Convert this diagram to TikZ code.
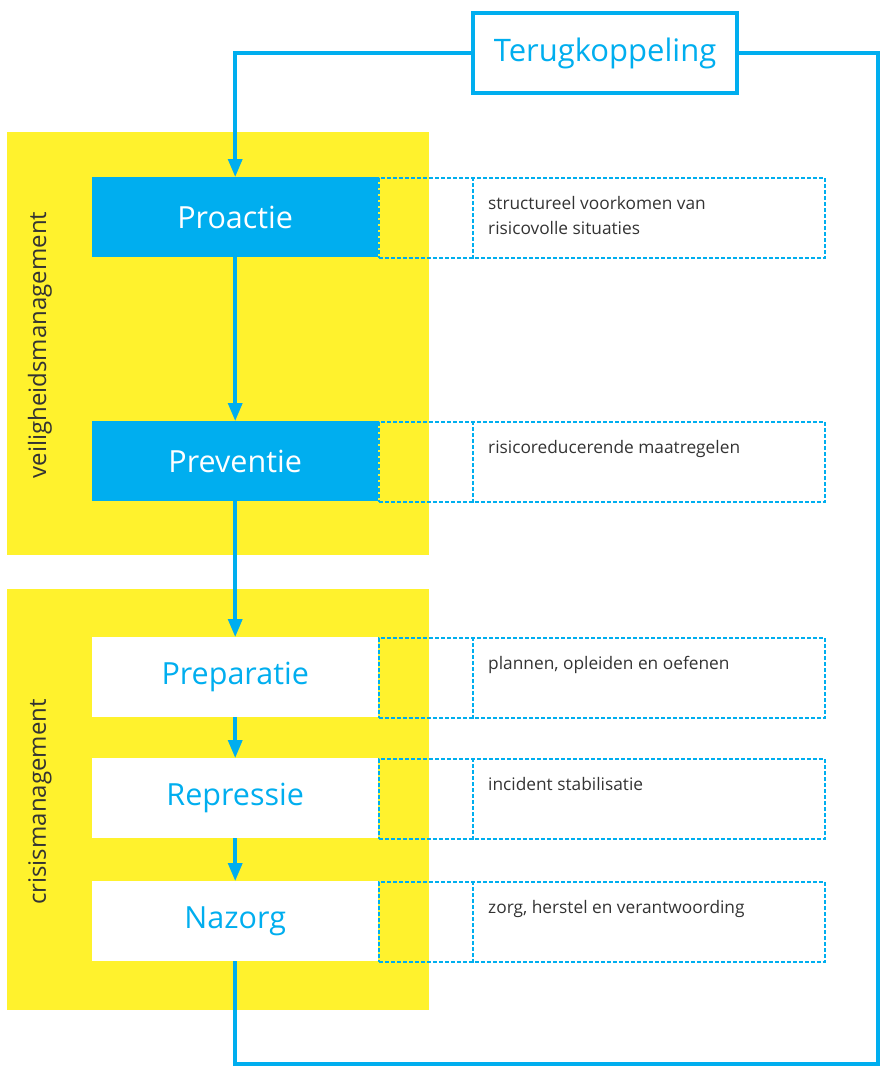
\documentclass[tikz,border=0pt]{standalone}
\usepackage{fontspec}
\setmainfont{Open Sans}
\usetikzlibrary{arrows.meta}
\definecolor{rblue}{HTML}{00AEEF}
\definecolor{ryel}{HTML}{FFF22D}
\definecolor{rtext}{HTML}{333333}
\begin{document}
\begin{tikzpicture}[x=1pt,y=-1pt,
  zone/.style={fill=ryel, inner sep=0, minimum width=422pt, minimum height=422pt, anchor=north west},
  zonelabel/.style={rotate=90, text=rtext, font=\fontsize{24}{26}\selectfont, inner sep=0},
  phase/.style={inner sep=0, minimum width=286pt, minimum height=80pt, anchor=north west, font=\fontsize{30.5}{32}\selectfont},
  phaseA/.style={phase, fill=rblue, text=white},
  phaseB/.style={phase, fill=white, text=rblue},
  note/.style={draw=rblue, line width=1.5pt, dash pattern=on 4pt off 2pt, inner sep=0, minimum width=446pt, minimum height=80pt, anchor=north west},
  notedash/.style={draw=rblue, line width=1.5pt, dash pattern=on 4pt off 2pt},
  notetext/.style={text=rtext, font=\fontsize{17.3}{25}\selectfont, align=left, inner sep=0, anchor=north west},
  fbbox/.style={draw=rblue, line width=3.5pt, fill=white, text=rblue, inner sep=0, minimum width=264pt, minimum height=80pt, font=\fontsize{31}{33}\selectfont},
  link/.style={draw=rblue, line width=3.5pt},
  arr/.style={link, -{Triangle[length=18pt,width=14pt]}}
]
\useasboundingbox (0,0) rectangle (880,1068);
% zones
\node[zone, minimum height=423pt] (z1) at (7,132) {};
\node[zone, minimum height=421pt] (z2) at (7,589) {};
\node[zonelabel] (zl1) at (40,345) {veiligheidsmanagement};
\node[zonelabel] (zl2) at (40,802) {crisismanagement};
% notes
\foreach \n/\y in {n1/177,n2/421,n3/637,n4/758,n5/881}{
  \node[note] (\n) at (378,\y) {};
  \draw[notedash] ([xshift=95pt]\n.north west) -- ([xshift=95pt]\n.south west);
}
\node[notetext] (t1) at ([xshift=110pt,yshift=-19pt]n1.north west) {structureel voorkomen van\\risicovolle situaties};
\node[notetext] (t2) at ([xshift=110pt,yshift=-19pt]n2.north west) {risicoreducerende maatregelen};
\node[notetext] (t3) at ([xshift=110pt,yshift=-19pt]n3.north west) {plannen, opleiden en oefenen};
\node[notetext] (t4) at ([xshift=110pt,yshift=-19pt]n4.north west) {incident stabilisatie};
\node[notetext] (t5) at ([xshift=110pt,yshift=-19pt]n5.north west) {zorg, herstel en verantwoording};
% phases
\node[phaseA] (p1) at (92,177) {Proactie};
\node[phaseA] (p2) at (92,421) {Preventie};
\node[phaseB] (p3) at (92,637) {Preparatie};
\node[phaseB] (p4) at (92,758) {Repressie};
\node[phaseB] (p5) at (92,881) {Nazorg};
\draw[arr] (p1) -- (p2);
\draw[arr] (p2) -- (p3);
\draw[arr] (p3) -- (p4);
\draw[arr] (p4) -- (p5);
% feedback
\node[fbbox] (fb) at (605,53) {Terugkoppeling};
\coordinate (c1) at (878,53);
\coordinate (c2) at (878,1064);
\draw[arr] (fb.west) -| (p1.north);
\draw[link] (p5.south) |- (c2) -- (c1) -- (fb.east);
\end{tikzpicture}
\end{document}
